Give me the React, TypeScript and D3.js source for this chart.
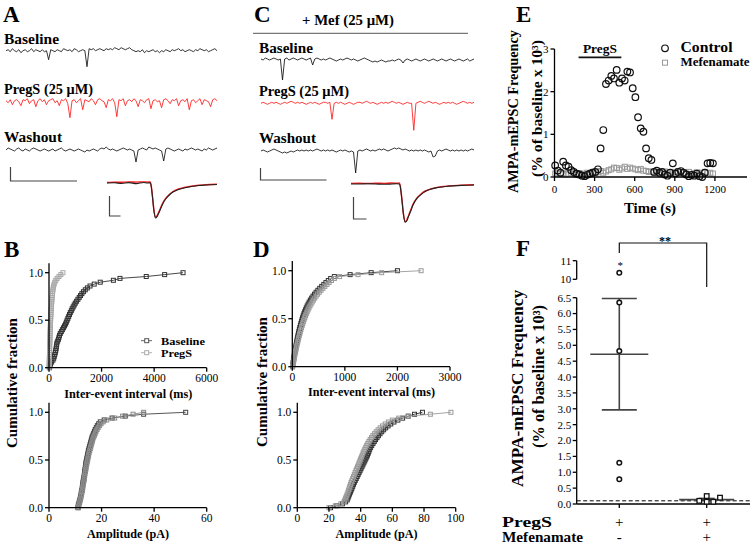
import React from "react";
import * as d3 from "d3";

const FONT = "'Liberation Serif','Times New Roman',serif";

// ---------------- Panels A / C : raw traces (pA, 1 unit ~ 1 px) ----------------
const traceABaseline = [
  0, 1, -1, 2, 0, -1, 1, -2, 0, 1, -1, 0, 2, -1, 1, 0, -1, 1, -1, 0,
  -9, 1, 0, -1, 1, 0, -1, 2, 1, 0, 1, -1, 2, 1, -1, 0, 1, 0, -16, 2,
  1, 2, 0, 1, 2, 1, 0, 2, 1, 2, 1, 3, 2, 1, 3, 2, 1, 2, 3, 1,
  0, -1, 0, -1, 1, -2, 0, -1, 0, 1, -1, 0, -2, 0, -1, 1, 0, -1, 1, 0,
  1, 2, 0, 1, -1, 0, 1, 0, -1, 1, 0, 2, 1, 0, 1, -1, 0, 1, 2, 0,
];
const traceAPregS = [
  0, -2, 1, -4, 0, 1, -1, -5, 1, 0, 2, -3, 0, 1, -6, 0, 2, -1, 1, -4,
  0, 1, 2, -2, 0, -5, 1, 0, 2, -3, -17, 0, 1, -2, 0, 2, -9, 1, 0, -1,
  2, 0, -4, 1, 2, 0, -1, -7, 1, 0, 2, -2, -16, 1, 0, 2, -5, 0, 1, -1,
  2, 0, -6, 1, 0, -2, 1, 2, -8, 0, 1, -1, 0, -7, 1, 2, 0, -3, 1, 0,
  2, -5, 0, 1, -1, 2, -9, 0, 1, -2, 0, 2, -4, 1, 0, -1, -6, 1, 2, 0,
];
const traceAWashout = [
  0, 2, 1, 0, -1, 1, 2, 0, -1, 1, 0, -1, 1, 2, 1, 0, -1, 0, 1, 0,
  -1, 0, 1, -1, 0, 1, 2, 0, -1, 0, 1, 0, -1, 0, 1, 0, -1, -2, 0, -1,
  0, 1, 0, -1, 1, 2, 1, 3, 1, 0, 1, 0, -1, 0, 1, 2, 1, 0, 1, 0,
  -1, -12, 0, 1, 2, 1, 0, 3, 2, 1, 2, 1, 0, -1, -11, 1, 2, 1, 0, -1,
  0, 1, 0, -1, 1, 0, 1, 2, 1, 0, 1, 0, -1, 1, 0, 2, 1, 0, 1, 2,
];
const traceCBaseline = [
  1, 0, 2, 1, 0, 1, 2, 1, 0, 1, -20, 1, 2, 0, 1, 2, 1, 0, 1, 2,
  1, 0, 1, 2, -5, 1, 2, 1, 0, 1, 0, 1, 2, 1, 0, -1, 0, 1, 0, 1,
  2, 1, 0, 1, 0, -1, 0, 1, 2, 1, 0, -1, -2, -1, -2, -1, 0, -1, -2, -1,
  -1, 0, -1, 0, 1, 0, -3, 0, 1, 0, -1, 0, 1, 0, -1, 0, 1, 0, -1, 0,
  1, 0, -1, 0, 1, 0, -1, 0, 1, 0, -1, 0, 1, 0, -1, 0, 1, -1, 0, 1,
];
const traceCPregS = [
  0, 1, 0, -1, 0, 1, 0, 1, 0, -1, 0, 1, 0, 1, 2, 1, 0, 1, 0, 1,
  0, -1, 0, 1, 0, 1, 0, -1, 0, 1, 1, 0, 1, -16, 0, 1, 0, 1, 0, -1,
  0, 1, 0, -1, 0, 1, 1, 0, 1, 2, 1, 0, 1, 0, -1, 0, 1, 0, 1, 0,
  1, 2, 1, 0, 1, 0, -1, 0, 1, 0, 0, -27, 0, 1, 2, 1, 0, 1, 2, 1,
  0, 1, 0, -1, 0, 1, 0, 1, 0, 1, 0, -1, 0, 1, 2, 1, 0, 1, 0, 1,
];
const traceCWashout = [
  0, 1, 0, -1, 0, 1, 2, 1, 0, -1, -2, -1, -2, -1, 0, -1, 0, 1, 0, 1,
  0, 1, 0, 1, 0, 1, 2, 1, 0, 1, 0, 1, 0, 1, 0, -1, 0, 1, 0, 1,
  0, -1, 0, -1, -22, 0, 1, 0, 1, 2, 1, 0, 1, 0, 1, 2, 1, 2, 1, 0,
  1, 2, 3, 2, 3, 2, 1, 2, 1, 0, 1, 0, 1, 0, 1, 0, 1, 0, -1, 0,
  -6, -5, 0, 1, 0, 1, 2, 1, 0, 1, 0, 1, 0, 1, 0, 1, 0, 1, 2, 1,
];

// averaged mEPSC insets (ms, pA)
const insetTime = [0, 2, 4, 6, 8, 10, 11, 11.8, 12, 12.4, 12.8, 13.2, 13.6, 14, 14.6, 15.2, 16, 17, 18, 19.5, 21, 23, 25, 27, 30];
const insetABlack = [0, 0.3, -0.5, 0.4, -0.6, 0.5, 0, 0.3, -2, -14, -28, -35, -34, -31, -26, -21, -16, -12, -9, -6.5, -5, -3.5, -2.5, -2, -1.5];
const insetARed = [0.5, 0.7, 0.8, 1, 0.9, 1.1, 0.9, 1.1, -1.5, -13, -27, -34, -33, -30, -25, -20, -15.5, -11.5, -8.5, -6, -4.5, -3.2, -2.3, -1.8, -1.3];
const insetCBlack = [0, 0, 0.3, 0, -0.3, 0, 0.2, 0, -2, -15, -30, -37, -36, -32, -26, -20, -14.5, -10.5, -7.5, -5, -3.5, -2.5, -1.8, -1.3, -1];
const insetCRed = [0.6, 0.8, 0.5, 0.8, 0.6, 0.9, 0.8, 1, -1.5, -14, -29, -37, -35, -31, -25, -19, -14, -10, -7, -4.8, -3.3, -2.3, -1.6, -1.1, -0.8];

// ---------------- Panels B / D : cumulative distributions ----------------
const bIntervalBaseline = [20, 35, 60, 100, 150, 180, 200, 220, 240, 255, 270, 280, 290, 300, 330, 360, 380, 400, 430, 470, 510, 550, 590, 630, 660, 690, 720, 750, 780, 810, 850, 880, 920, 960, 1000, 1050, 1100, 1150, 1200, 1250, 1310, 1380, 1460, 1560, 1720, 1950, 2450, 2700, 3700, 4400, 5100];
const bIntervalPregS = [3, 6, 8, 10, 12, 14, 16, 18, 20, 22, 24, 26, 28, 30, 32, 34, 36, 38, 40, 42, 45, 48, 51, 54, 57, 60, 64, 68, 72, 76, 80, 85, 90, 95, 100, 106, 112, 118, 125, 132, 140, 150, 160, 175, 195, 220, 260, 310, 380, 450, 530];
const bAmpBaseline = [11.0, 11.1, 11.3, 11.5, 11.7, 11.9, 12.0, 12.2, 12.3, 12.5, 12.6, 12.7, 12.8, 12.9, 13.0, 13.2, 13.3, 13.4, 13.5, 13.6, 13.7, 13.8, 13.9, 14.0, 14.1, 14.3, 14.4, 14.6, 14.7, 14.9, 15.0, 15.2, 15.4, 15.6, 15.8, 16.0, 16.2, 16.4, 16.7, 17.0, 17.3, 17.6, 18.0, 18.4, 18.9, 19.5, 21, 24, 29, 36, 52];
const bAmpPregS = [11.2, 11.3, 11.5, 11.7, 11.9, 12.1, 12.2, 12.4, 12.5, 12.7, 12.8, 12.9, 13.0, 13.1, 13.3, 13.4, 13.5, 13.6, 13.7, 13.9, 14.0, 14.1, 14.2, 14.4, 14.5, 14.7, 14.8, 15.0, 15.1, 15.3, 15.5, 15.7, 15.9, 16.1, 16.3, 16.5, 16.7, 17.0, 17.3, 17.6, 17.9, 18.3, 18.7, 19.2, 19.8, 20.6, 22, 25, 28, 32, 36];
const dIntervalBaseline = [4, 10, 15, 21, 27, 33, 39, 45, 51, 58, 65, 72, 79, 86, 93, 101, 109, 117, 126, 135, 144, 154, 164, 174, 185, 196, 208, 221, 235, 250, 266, 283, 302, 322, 344, 368, 394, 422, 452, 486, 522, 560, 600, 640, 685, 730, 800, 1100, 1500, 2000];
const dIntervalPregS = [6, 13, 20, 27, 34, 41, 48, 56, 64, 72, 80, 88, 97, 106, 115, 124, 134, 144, 154, 165, 176, 187, 199, 211, 224, 237, 251, 266, 282, 299, 317, 336, 356, 378, 401, 426, 453, 482, 513, 546, 582, 620, 660, 700, 745, 800, 900, 1250, 1700, 2450];
const dAmpBaseline = [21, 25, 28.5, 30.5, 31.5, 32, 32.5, 33, 33.5, 34, 34.5, 35, 35.5, 36, 36.6, 37.2, 37.8, 38.4, 39, 39.6, 40.2, 40.8, 41.4, 42, 42.6, 43.2, 43.8, 44.3, 44.8, 45.2, 45.7, 46.3, 47, 47.8, 48.6, 49.4, 50.3, 51.2, 52.2, 53.3, 54.5, 55.8, 57.3, 59, 61, 63.5, 66.5, 70, 74, 79];
const dAmpPregS = [20, 24, 27.5, 29.5, 30, 30.5, 31, 31.5, 32, 32.4, 32.8, 33.2, 33.6, 34, 34.5, 35, 35.5, 36, 36.5, 37, 37.5, 38, 38.5, 39, 39.5, 40, 40.5, 41, 41.5, 42, 42.6, 43.2, 43.8, 44.5, 45.2, 46, 46.8, 47.7, 48.7, 49.8, 51, 52.3, 53.8, 55.5, 57.5, 60, 64, 70, 84, 97];
const cdfYTicks = [0, 0.5, 1.0];
const bIntervalTicks = [0, 2000, 4000, 6000];
const bAmpTicks = [0, 20, 40, 60];
const dIntervalTicks = [0, 1000, 2000, 3000];
const dAmpTicks = [0, 20, 40, 60, 80, 100];

// ---------------- Panel E : time course ----------------
const eTimes = [5, 25, 45, 65, 85, 105, 125, 145, 165, 185, 205, 225, 245, 265, 285, 305, 325, 345, 365, 385, 405, 425, 445, 465, 485, 505, 525, 545, 565, 585, 605, 625, 645, 665, 685, 705, 725, 745, 765, 785, 805, 825, 845, 865, 885, 905, 925, 945, 965, 985, 1005, 1025, 1045, 1065, 1085, 1105, 1125, 1145, 1165, 1185];
const eControl = [0.27, 0.15, 0.1, 0.36, 0.27, 0.24, 0.16, 0.12, 0.08, 0.06, 0.03, 0.02, 0.05, 0.08, 0.1, 0.12, 0.18, 0.67, 1.1, 2.18, 2.26, 2.37, 2.31, 2.51, 2.21, 2.31, 2.26, 2.47, 2.45, 2.08, 1.87, 1.4, 1.14, 1.06, 0.67, 0.44, 0.4, 0.12, 0.15, 0.1, 0.12, 0.06, 0.03, 0.1, 0.32, 0.08, 0.12, 0.14, 0.1, 0.06, 0.02, 0.05, 0.03, 0.08, 0.02, 0.0, 0.1, 0.32, 0.33, 0.32];
const eMefenamate = [0.08, 0.1, 0.07, 0.09, 0.06, 0.08, 0.1, 0.07, 0.05, 0.09, 0.06, 0.08, 0.1, 0.07, 0.12, 0.09, 0.11, 0.14, 0.1, 0.13, 0.16, 0.18, 0.22, 0.21, 0.17, 0.2, 0.24, 0.19, 0.22, 0.2, 0.18, 0.16, 0.19, 0.15, 0.14, 0.12, 0.13, 0.1, 0.12, 0.09, 0.11, 0.13, 0.1, 0.08, 0.12, 0.09, 0.14, 0.11, 0.1, 0.08, 0.12, 0.07, 0.09, 0.11, 0.08, 0.1, 0.12, 0.09, 0.1, 0.08];
const eXTicks = [0, 300, 600, 900, 1200];
const eYTicks = [0, 1, 2, 3];
const ePregSWindow = [180, 500];

// ---------------- Panel F : summary ----------------
const fGroups = ["PregS", "PregS+Mef"];
const fPregS = [10.35, 6.35, 4.82, 1.3, 0.78];
const fMef = [0.1, 0.25, 0.07, 0.07, 0.2];
const fMefJitter = [-7.4, 0, 0, 6.6, 13.3];
const fLowTicks = [0, 0.5, 1, 1.5, 2, 2.5, 3, 3.5, 4, 4.5, 5, 5.5, 6, 6.5];
const fHighTicks = [10, 11];
const fBaselineLevel = 0.1;

// ---------------- helpers ----------------
function T(p: any) {
  const { x, y, children, size = 12, bold = false, anchor = "start", len, rot = false, fill = "#000" } = p;
  const props: any = { fontSize: size, fontWeight: bold ? "bold" : "normal", textAnchor: anchor, fill };
  if (len) {
    props.textLength = len;
    props.lengthAdjust = "spacingAndGlyphs";
  }
  if (rot) return <text transform={`translate(${x},${y}) rotate(-90)`} {...props}>{children}</text>;
  return <text x={x} y={y} {...props}>{children}</text>;
}

function AxisLeft(p: any) {
  const { scale, x, ticks, fmt, from, to, len = 4, size = 11, gap = 2 } = p;
  return (
    <g>
      <line x1={x} x2={x} y1={from} y2={to} stroke="#000" strokeWidth={1.3} />
      {ticks.map((t: number) => (
        <g key={t}>
          <line x1={x - len} x2={x} y1={scale(t)} y2={scale(t)} stroke="#000" strokeWidth={1.3} />
          <text x={x - len - gap} y={scale(t)} dy="0.35em" textAnchor="end" fontSize={size}>{fmt(t)}</text>
        </g>
      ))}
    </g>
  );
}

function AxisBottom(p: any) {
  const { scale, y, ticks, fmt, from, to, len = 4, size = 11, off = 14 } = p;
  return (
    <g>
      <line x1={from} x2={to} y1={y} y2={y} stroke="#000" strokeWidth={1.3} />
      {ticks.map((t: number) => (
        <g key={t}>
          <line x1={scale(t)} x2={scale(t)} y1={y} y2={y + len} stroke="#000" strokeWidth={1.3} />
          <text x={scale(t)} y={y + off} textAnchor="middle" fontSize={size}>{fmt(t)}</text>
        </g>
      ))}
    </g>
  );
}

function Trace(p: any) {
  const { values, x0, x1, y0, color } = p;
  const xs = d3.scaleLinear().domain([0, values.length - 1]).range([x0, x1]);
  const ys = d3.scaleLinear().domain([0, 1]).range([y0, y0 - 1]);
  const path = d3.line<number>().x((_, i) => xs(i)).y((v) => ys(v))(values) || "";
  return <path d={path} fill="none" stroke={color} strokeWidth={0.85} />;
}

function Inset(p: any) {
  const { black, red, x0, x1, y0, peak } = p;
  const xs = d3.scaleLinear().domain([0, 30]).range([x0, x1]);
  const ys = d3.scaleLinear().domain([0, -35]).range([y0, y0 + peak]);
  const mk = (arr: number[]) =>
    d3.line<number>().x((_, i) => xs(insetTime[i])).y((v) => ys(v)).curve(d3.curveMonotoneX)(arr) || "";
  return (
    <g>
      <path d={mk(red)} fill="none" stroke="#ff1a1a" strokeWidth={1.4} />
      <path d={mk(black)} fill="none" stroke="#222" strokeWidth={1.1} />
    </g>
  );
}

function ScaleBar(p: any) {
  const { x, y, w, h } = p;
  return <path d={`M${x},${y - h}V${y}H${x + w}`} fill="none" stroke="#444" strokeWidth={1.2} />;
}

function Cdf(p: any) {
  const { values, xs, ys, color } = p;
  const n = values.length;
  const pts: [number, number][] = values.map((v: number, i: number) => [xs(v), ys(i / (n - 1))]);
  const path = d3.line()(pts) || "";
  return (
    <g>
      <path d={path} fill="none" stroke={color} strokeWidth={0.9} />
      {pts.map(([x, y], i) => (
        <rect key={i} x={x - 2} y={y - 2} width={4} height={4} fill="none" stroke={color} strokeWidth={1} />
      ))}
    </g>
  );
}

function CdfPlot(p: any) {
  const { x0, x1, yBottom, yOne, xMax, xTicks, base, preg, baseColor, pregColor } = p;
  const xs = d3.scaleLinear().domain([0, xMax]).range([x0, x1]);
  const ys = d3.scaleLinear().domain([0, 1]).range([yBottom, yOne]);
  const fmtY = d3.format(".1f");
  return (
    <g>
      <Cdf values={base} xs={xs} ys={ys} color={baseColor} />
      <Cdf values={preg} xs={xs} ys={ys} color={pregColor} />
      <AxisLeft scale={ys} x={x0} ticks={cdfYTicks} fmt={fmtY} from={ys(1.1)} to={yBottom} size={11.5} />
      <AxisBottom scale={xs} y={yBottom} ticks={xTicks} fmt={(d: number) => String(d)} from={x0} to={x1} size={11.5} off={14} />
    </g>
  );
}

// ---------------- panels ----------------
function PanelA() {
  return (
    <g>
      <T x={3} y={22} size={23} bold>A</T>
      <T x={4} y={44.3} size={14} bold len={55}>Baseline</T>
      <Trace values={traceABaseline} x0={6} x1={217} y0={50.7} color="#111" />
      <T x={4} y={94} size={14} bold len={89}>PregS (25 μM)</T>
      <Trace values={traceAPregS} x0={6} x1={217} y0={100.7} color="#ff1a1a" />
      <T x={4} y={141.7} size={14} bold len={58}>Washout</T>
      <Trace values={traceAWashout} x0={6} x1={217} y0={150} color="#111" />
      <ScaleBar x={10.5} y={181} w={66.5} h={14} />
      <Inset black={insetABlack} red={insetARed} x0={107} x1={217} y0={183} peak={35} />
      <ScaleBar x={109.5} y={216} w={11} h={20} />
    </g>
  );
}

function PanelC() {
  return (
    <g>
      <T x={254} y={22} size={23} bold>C</T>
      <T x={302} y={25} size={14} bold len={92}>+ Mef (25 μM)</T>
      <line x1={253} x2={468} y1={33.3} y2={33.3} stroke="#555" strokeWidth={1} />
      <T x={259} y={52.7} size={14} bold len={54}>Baseline</T>
      <Trace values={traceCBaseline} x0={261} x1={474} y0={60} color="#111" />
      <T x={259} y={95.5} size={14} bold len={90}>PregS (25 μM)</T>
      <Trace values={traceCPregS} x0={261} x1={474} y0={103.3} color="#ff1a1a" />
      <T x={259} y={142.7} size={14} bold len={57}>Washout</T>
      <Trace values={traceCWashout} x0={261} x1={474} y0={151} color="#111" />
      <ScaleBar x={260.5} y={180} w={66} h={12} />
      <Inset black={insetCBlack} red={insetCRed} x0={351} x1={474} y0={184} peak={36} />
      <ScaleBar x={353.5} y={219} w={13} h={22} />
    </g>
  );
}

function PanelB() {
  return (
    <g>
      <T x={4} y={257} size={23} bold>B</T>
      <T x={17} y={383} size={15} bold rot anchor="middle" len={130}>Cumulative fraction</T>
      <CdfPlot x0={49} x1={206.7} yBottom={367.7} yOne={272.7} xMax={6000} xTicks={bIntervalTicks}
        base={bIntervalBaseline} preg={bIntervalPregS} baseColor="#333" pregColor="#a8a8a8" />
      <T x={128.3} y={397.7} size={12.5} bold anchor="middle" len={128}>Inter-event interval (ms)</T>
      <line x1={141} x2={152} y1={340.7} y2={340.7} stroke="#555" strokeWidth={0.9} />
      <rect x={144.7} y={338.7} width={4} height={4} fill="#fff" stroke="#555" strokeWidth={1} />
      <T x={161} y={344.5} size={11} bold len={44}>Baseline</T>
      <line x1={141} x2={152} y1={352.7} y2={352.7} stroke="#aaa" strokeWidth={0.9} />
      <rect x={144.7} y={350.7} width={4} height={4} fill="#fff" stroke="#aaa" strokeWidth={1} />
      <T x={161} y={357} size={11} bold len={31}>PregS</T>
      <CdfPlot x0={49} x1={206.7} yBottom={507.7} yOne={412.3} xMax={60} xTicks={bAmpTicks}
        base={bAmpBaseline} preg={bAmpPregS} baseColor="#444" pregColor="#8a8a8a" />
      <T x={128} y={538} size={12.5} bold anchor="middle" len={82}>Amplitude (pA)</T>
    </g>
  );
}

function PanelD() {
  return (
    <g>
      <T x={253} y={257} size={23} bold>D</T>
      <T x={267} y={382} size={15} bold rot anchor="middle" len={130}>Cumulative fraction</T>
      <CdfPlot x0={292.3} x1={450} yBottom={366.7} yOne={270.7} xMax={3000} xTicks={dIntervalTicks}
        base={dIntervalBaseline} preg={dIntervalPregS} baseColor="#333" pregColor="#9a9a9a" />
      <T x={371.5} y={396} size={12.5} bold anchor="middle" len={127}>Inter-event interval (ms)</T>
      <CdfPlot x0={297.3} x1={455.7} yBottom={507.7} yOne={412.3} xMax={100} xTicks={dAmpTicks}
        base={dAmpBaseline} preg={dAmpPregS} baseColor="#333" pregColor="#9a9a9a" />
      <T x={376.5} y={538} size={12.5} bold anchor="middle" len={82}>Amplitude (pA)</T>
    </g>
  );
}

function PanelE() {
  const xs = d3.scaleLinear().domain([0, 1440]).range([554.5, 747]);
  const ys = d3.scaleLinear().domain([0, 3]).range([177, 49]);
  return (
    <g>
      <T x={516} y={22} size={23} bold>E</T>
      <T x={518} y={111.5} size={14} bold rot anchor="middle" len={163}>AMPA-mEPSC Frequency</T>
      <T x={542} y={108.5} size={14} bold rot anchor="middle" len={137}>(% of baseline x 10³)</T>
      {eMefenamate.map((v, i) => (
        <rect key={"m" + i} x={xs(eTimes[i]) - 2.5} y={ys(v) - 2.5} width={5} height={5} fill="none" stroke="#9a9a9a" strokeWidth={1} />
      ))}
      {eControl.map((v, i) => (
        <circle key={"c" + i} cx={xs(eTimes[i])} cy={ys(v)} r={3.3} fill="none" stroke="#111" strokeWidth={1.2} />
      ))}
      <AxisLeft scale={ys} x={554.5} ticks={eYTicks} fmt={(d: number) => String(d)} from={49} to={177} size={11} gap={2} />
      <AxisBottom scale={xs} y={177} ticks={eXTicks} fmt={(d: number) => String(d)} from={554.5} to={747} size={11} off={16.3} />
      <T x={650} y={213.3} size={15} bold anchor="middle" len={52}>Time (s)</T>
      <line x1={xs(ePregSWindow[0])} x2={xs(ePregSWindow[1])} y1={57.3} y2={57.3} stroke="#111" strokeWidth={1.8} />
      <T x={(xs(ePregSWindow[0]) + xs(ePregSWindow[1])) / 2} y={53} size={13} bold anchor="middle" len={34}>PregS</T>
      <circle cx={665} cy={48.3} r={3.3} fill="none" stroke="#111" strokeWidth={1.2} />
      <T x={680.5} y={52} size={14} bold len={52}>Control</T>
      <rect x={662.5} y={60.2} width={5} height={5} fill="none" stroke="#9a9a9a" strokeWidth={1} />
      <T x={680.5} y={66} size={13.5} bold len={69}>Mefenamate</T>
    </g>
  );
}

function PanelF() {
  const xs = d3.scalePoint<string>().domain(fGroups).range([619.3, 706.7]);
  const yLow = d3.scaleLinear().domain([0, 6.5]).range([504, 297.7]);
  const yHigh = d3.scaleLinear().domain([10, 11]).range([279.3, 260.7]);
  const yv = (v: number) => (v >= 10 ? yHigh(v) : yLow(v));
  const stats = (arr: number[]) => {
    const m = d3.mean(arr) as number;
    const se = (d3.deviation(arr) as number) / Math.sqrt(arr.length);
    return { m, se };
  };
  const s1 = stats(fPregS);
  const s2 = stats(fMef);
  const x1 = xs(fGroups[0]) as number;
  const x2 = xs(fGroups[1]) as number;
  const fmt = d3.format(".1f");
  const axX = 576.7;
  return (
    <g>
      <T x={516} y={256} size={23} bold>F</T>
      <T x={523} y={388.5} size={16.5} bold rot anchor="middle" len={197}>AMPA-mEPSC Frequency</T>
      <T x={544} y={376.5} size={16.5} bold rot anchor="middle" len={143}>(% of baseline x 10³)</T>
      <AxisLeft scale={yLow} x={axX} ticks={fLowTicks} fmt={fmt} from={yLow(6.5)} to={yLow(0)} size={11} gap={1.5} />
      <AxisLeft scale={yHigh} x={axX} ticks={fHighTicks} fmt={(d: number) => String(d)} from={yHigh(11)} to={yHigh(10)} size={11} gap={1.5} />
      <line x1={axX} x2={750} y1={504} y2={504} stroke="#000" strokeWidth={1.3} />
      {[x1, x2].map((x) => (
        <line key={x} x1={x} x2={x} y1={504} y2={508} stroke="#000" strokeWidth={1.3} />
      ))}
      <line x1={axX} x2={752} y1={yLow(fBaselineLevel)} y2={yLow(fBaselineLevel)} stroke="#000" strokeWidth={1} strokeDasharray="4,2.5" />
      <g stroke="#444" strokeWidth={1.6}>
        <line x1={x1} x2={x1} y1={yLow(s1.m + s1.se)} y2={yLow(s1.m - s1.se)} />
        <line x1={x1 - 29} x2={x1 + 29} y1={yLow(s1.m)} y2={yLow(s1.m)} />
        <line x1={x1 - 17.5} x2={x1 + 17.5} y1={yLow(s1.m + s1.se)} y2={yLow(s1.m + s1.se)} />
        <line x1={x1 - 17.5} x2={x1 + 17.5} y1={yLow(s1.m - s1.se)} y2={yLow(s1.m - s1.se)} />
        <line x1={x2} x2={x2} y1={yLow(s2.m + s2.se)} y2={yLow(s2.m - s2.se)} />
        <line x1={x2 - 27.5} x2={x2 + 27.5} y1={yLow(s2.m)} y2={yLow(s2.m)} />
        <line x1={x2 - 8} x2={x2 + 8} y1={yLow(s2.m + s2.se)} y2={yLow(s2.m + s2.se)} />
      </g>
      {fPregS.map((v, i) => (
        <circle key={"p" + i} cx={x1} cy={yv(v)} r={2.3} fill="#fff" stroke="#111" strokeWidth={1.5} />
      ))}
      {fMef.map((v, i) => (
        <rect key={"q" + i} x={x2 + fMefJitter[i] - 2.3} y={yLow(v) - 2.3} width={4.6} height={4.6} fill="#fff" stroke="#111" strokeWidth={1.3} />
      ))}
      <T x={x1 + 1} y={yv(fPregS[0]) - 4} size={11} anchor="middle">*</T>
      <path d={`M${x1},253V243H${x2}V287`} fill="none" stroke="#111" strokeWidth={1.2} />
      <T x={(x1 + x2) / 2 + 2} y={245} size={12} bold anchor="middle">**</T>
      <T x={502} y={527.3} size={14} bold len={50}>PregS</T>
      <T x={502} y={541.7} size={14} bold len={81}>Mefenamate</T>
      <T x={x1} y={527.3} size={15} anchor="middle">+</T>
      <T x={x2} y={527.3} size={15} anchor="middle">+</T>
      <T x={x1} y={541.7} size={15} anchor="middle">-</T>
      <T x={x2} y={541.7} size={15} anchor="middle">+</T>
    </g>
  );
}

export default function App() {
  return (
    <svg width={754} height={546} viewBox="0 0 754 546" fontFamily={FONT}
      style={{ position: "absolute", left: 0, top: 0, background: "#fff" }}>
      <rect width={754} height={546} fill="#fff" />
      <PanelA />
      <PanelC />
      <PanelB />
      <PanelD />
      <PanelE />
      <PanelF />
    </svg>
  );
}
